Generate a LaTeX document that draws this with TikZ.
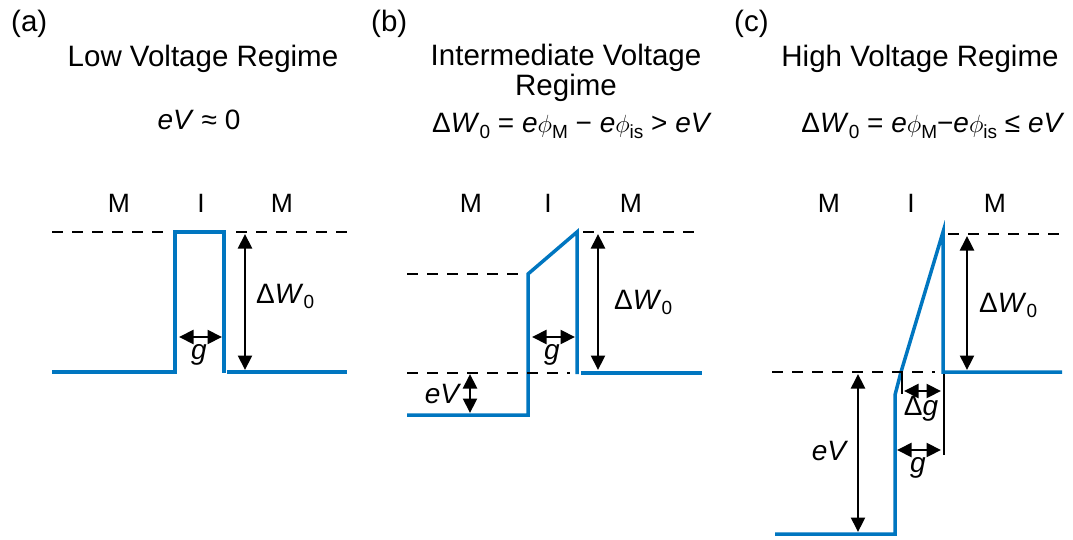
\documentclass[tikz,border=0pt]{standalone}
\usepackage{fontspec}
\setmainfont{Liberation Sans}
\usetikzlibrary{arrows.meta}
\definecolor{bandblue}{RGB}{0,118,192}
\newcommand\lowidx[1]{\raisebox{-0.18em}{\fontsize{19}{20}\selectfont #1}}
\begin{document}
\begin{tikzpicture}[x=1pt,y=-1pt,
  band/.style={draw=bandblue,line width=3.5pt,line join=miter},
  level/.style={draw=black,line width=2.1pt,dash pattern=on 11pt off 9pt},
  dimarrow/.style={draw=black,line width=2.1pt,{Triangle[length=14.5pt,width=14pt]}-{Triangle[length=14.5pt,width=14pt]}},
  guide/.style={draw=black,line width=1.1pt},
  lbl/.style={font=\fontsize{28}{30}\selectfont,inner sep=0pt,anchor=base},
  head/.style={font=\fontsize{29.5}{32}\selectfont,inner sep=0pt,anchor=base},
  region/.style={font=\fontsize{26.5}{28}\selectfont,inner sep=0pt,anchor=base},
  ]
\useasboundingbox (0,0) rectangle (1073,540);

% ---------- titles ----------
\node[head,anchor=base west] (ta) at (11,32) {(a)};
\node[head] (ha) at (203,67) {Low Voltage Regime};
\node[lbl] (fa) at (199,130) {\textit{eV} ≈ 0};

\node[head,anchor=base west] (tb) at (371,32) {(b)};
\node[head] (hb1) at (566,66) {Intermediate Voltage};
\node[head] (hb2) at (566,96) {Regime};
\node[lbl] (fb) at (572,133) {Δ\textit{W}\lowidx{0} = \textit{e}$\phi$\lowidx{M} − \textit{e}$\phi$\lowidx{is} > \textit{eV}};

\node[head,anchor=base west] (tc) at (734,32) {(c)};
\node[head] (hc) at (920,67) {High Voltage Regime};
\node[lbl] (fc) at (933,133) {Δ\textit{W}\lowidx{0} = \textit{e}$\phi$\lowidx{M}−\textit{e}$\phi$\lowidx{is} ≤ \textit{eV}};

% ---------- M I M ----------
\node[region] (am1) at (119,212) {M};
\node[region] (ai) at (201,212) {I};
\node[region] (am2) at (282,212) {M};
\node[region] (bm1) at (471,212) {M};
\node[region] (bi) at (548,212) {I};
\node[region] (bm2) at (631,212) {M};
\node[region] (cm1) at (829,212) {M};
\node[region] (ci) at (911,212) {I};
\node[region] (cm2) at (995,212) {M};

% ================= panel (a) =================
\coordinate (a1) at (52,372);
\coordinate (a2) at (175,372);
\coordinate (a3) at (175,232);
\coordinate (a4) at (224,232);
\coordinate (a5) at (224,373);
\coordinate (a6) at (227,372);
\coordinate (a7) at (347,372);
\draw[band] (a1) -- (a2) -- (a3) -- (a4) -- (a5);
\draw[band] (a6) -- (a7);
\coordinate (ad1) at (52,232);
\coordinate (ad2) at (172,232);
\coordinate (ad3) at (236,232);
\coordinate (ad4) at (347,232);
\draw[level] (ad1) -- (ad2);
\draw[level] (ad3) -- (ad4);
\coordinate (ag1) at (179,337);
\coordinate (ag2) at (222,337);
\draw[dimarrow] (ag1) -- (ag2);
\node[lbl] (agl) at (199,359) {\textit{g}};
\coordinate (aw1) at (245,234);
\coordinate (aw2) at (245,370);
\draw[dimarrow] (aw1) -- (aw2);
\node[lbl,anchor=base west] (awl) at (256,303) {Δ\textit{W}\lowidx{0}};

% ================= panel (b) =================
\coordinate (b1) at (407,415);
\coordinate (b2) at (528,415);
\coordinate (b3) at (528,274);
\coordinate (b4) at (577,232);
\coordinate (b5) at (577,374);
\coordinate (b6) at (581,373);
\coordinate (b7) at (702,373);
\draw[band] (b1) -- (b2) -- (b3) -- (b4) -- (b5);
\draw[band] (b6) -- (b7);
\coordinate (bd1) at (583,232);
\coordinate (bd2) at (695,232);
\coordinate (bd3) at (407,274);
\coordinate (bd4) at (525,274);
\coordinate (bd5) at (407,373);
\coordinate (bd6) at (570,373);
\draw[level] (bd1) -- (bd2);
\draw[level] (bd3) -- (bd4);
\draw[level] (bd5) -- (bd6);
\coordinate (bg1) at (532,337);
\coordinate (bg2) at (575,337);
\draw[dimarrow] (bg1) -- (bg2);
\node[lbl] (bgl) at (552,359) {\textit{g}};
\coordinate (bw1) at (598,234);
\coordinate (bw2) at (598,370);
\draw[dimarrow] (bw1) -- (bw2);
\node[lbl,anchor=base west] (bwl) at (614,309) {Δ\textit{W}\lowidx{0}};
\coordinate (bv1) at (470,374);
\coordinate (bv2) at (470,413);
\draw[dimarrow] (bv1) -- (bv2);
\node[lbl] (bvl) at (443,403) {\textit{eV}};

% ================= panel (c) =================
\coordinate (c1) at (775,534);
\coordinate (c2) at (895,534);
\coordinate (c3) at (895,395);
\coordinate (c4) at (901,372);
\coordinate (c5) at (943,232);
\coordinate (c6) at (943,372);
\coordinate (c7) at (1062,372);
\draw[band] (c1) -- (c2) -- (c3) -- (c4) -- (c5) -- (c6) -- (c7);
\coordinate (cd1) at (948,234);
\coordinate (cd2) at (1062,234);
\coordinate (cd3) at (772,372);
\coordinate (cd4) at (935,372);
\draw[level] (cd1) -- (cd2);
\draw[level] (cd3) -- (cd4);
\coordinate (cg1) at (902,372);
\coordinate (cg2) at (902,394);
\coordinate (cg3) at (944,374);
\coordinate (cg4) at (944,455);
\draw[guide] (cg1) -- (cg2);
\draw[guide] (cg3) -- (cg4);
\coordinate (cdg1) at (904,391);
\coordinate (cdg2) at (941,391);
\draw[dimarrow] (cdg1) -- (cdg2);
\node[lbl] (cdgl) at (921,415) {Δ\textit{g}};
\coordinate (cgg1) at (897,450);
\coordinate (cgg2) at (941,450);
\draw[dimarrow] (cgg1) -- (cgg2);
\node[lbl] (cggl) at (918,472) {\textit{g}};
\coordinate (cw1) at (967,236);
\coordinate (cw2) at (967,370);
\draw[dimarrow] (cw1) -- (cw2);
\node[lbl,anchor=base west] (cwl) at (979,312) {Δ\textit{W}\lowidx{0}};
\coordinate (cv1) at (858,374);
\coordinate (cv2) at (858,532);
\draw[dimarrow] (cv1) -- (cv2);
\node[lbl] (cvl) at (830,460) {\textit{eV}};
\end{tikzpicture}
\end{document}
